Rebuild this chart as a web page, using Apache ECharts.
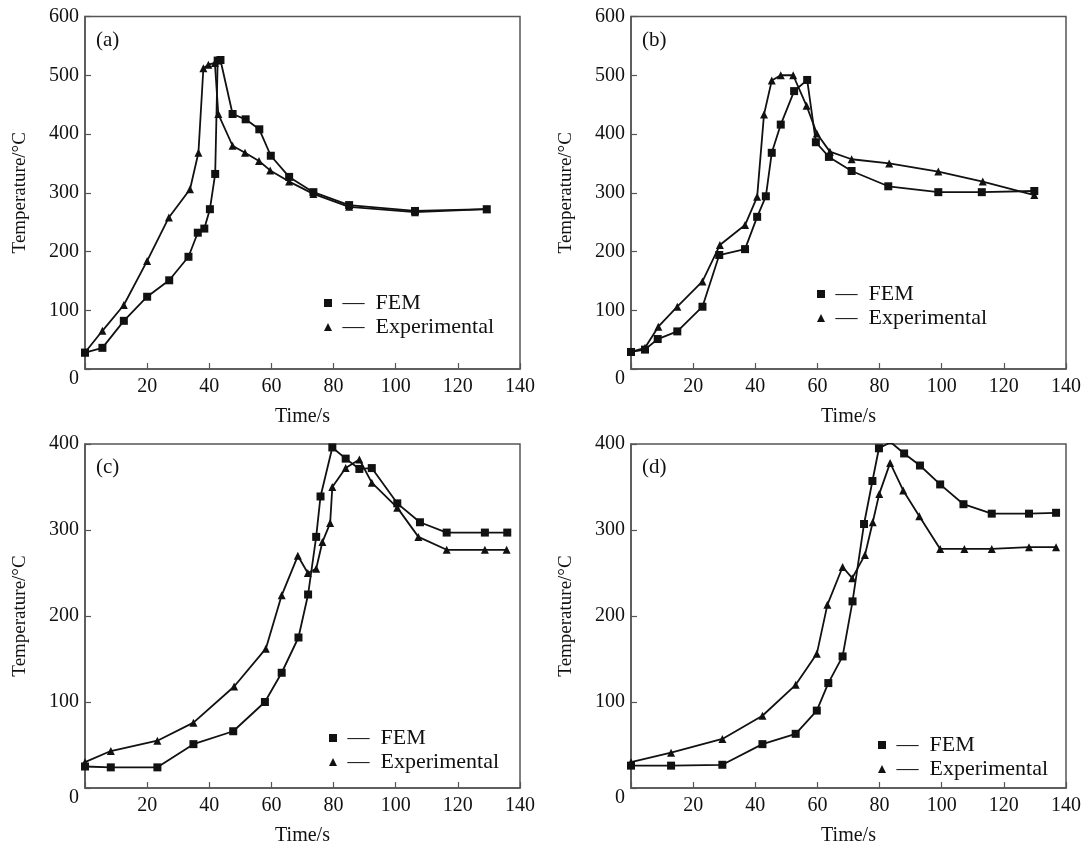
<!DOCTYPE html>
<html>
<head>
<meta charset="utf-8">
<script src="https://cdn.jsdelivr.net/npm/echarts@6/dist/echarts.min.js"></script>
<style>
  html, body { margin: 0; padding: 0; background: #fff; }
  #chart { width: 1086px; height: 847px; }
</style>
</head>
<body>
<div id="chart"></div>
<script>
// panel (a)
var femA_t = [0, 5.6, 12.5, 20, 27.1, 33.3, 36.3, 38.4, 40.2, 41.9, 42.7, 43.6, 47.5, 51.7, 56.1, 59.8, 65.7, 73.5, 85, 106.2, 129.3];
var femA_T = [28, 36, 82, 123, 151, 191, 232, 239, 272, 332, 525, 526, 434, 425, 408, 363, 327, 301, 279, 269, 272];
var expA_t = [0, 5.6, 12.5, 20, 27, 33.8, 36.5, 38.1, 39.7, 41.8, 42.9, 47.5, 51.5, 56, 59.6, 65.7, 73.5, 85, 106.2, 129.3];
var expA_T = [28, 65, 109, 184, 258, 306, 368, 512, 518, 521, 434, 380, 368, 354, 338, 319, 298, 276, 267, 272];
// panel (b)
var femB_t = [0, 4.5, 8.6, 14.9, 23, 28.4, 36.7, 40.6, 43.4, 45.3, 48.2, 52.5, 56.7, 59.5, 63.7, 71, 82.8, 98.9, 112.9, 129.8];
var femB_T = [29, 33, 51, 64, 106, 194, 204, 259, 294, 368, 416, 473, 492, 386, 361, 337, 311, 301, 301, 303];
var expB_t = [0, 4.5, 8.8, 14.9, 23, 28.6, 36.7, 40.6, 42.8, 45.3, 48.2, 52.2, 56.5, 59.8, 64, 71, 83.1, 98.9, 113.2, 129.8];
var expB_T = [29, 36, 72, 106, 149, 211, 245, 293, 433, 491, 500, 500, 448, 401, 370, 357, 350, 336, 319, 296];
// panel (c)
var femC_t = [0, 8.3, 23.3, 34.9, 47.7, 57.9, 63.3, 68.7, 71.8, 74.4, 75.8, 79.6, 83.9, 88.3, 92.3, 100.5, 107.8, 116.4, 128.7, 135.9];
var femC_T = [25, 24, 24, 51, 66, 100, 134, 175, 225, 292, 339, 396, 383, 371, 372, 331, 309, 297, 297, 297];
var expC_t = [0, 8.3, 23.3, 34.9, 48, 58.2, 63.3, 68.5, 71.7, 74.4, 76.4, 78.9, 79.6, 83.9, 88.3, 92.3, 100.5, 107.3, 116.4, 128.7, 135.7];
var expC_T = [30, 43, 55, 76, 118, 162, 224, 270, 250, 255, 286, 308, 350, 372, 382, 355, 326, 292, 277, 277, 277];
// panel (d)
var femD_t = [0, 12.9, 29.4, 42.3, 53, 59.8, 63.5, 68.1, 71.3, 75, 77.7, 79.8, 83.6, 87.9, 93, 99.5, 107, 116.1, 128.1, 136.8];
var femD_T = [26, 26, 27, 51, 63, 90, 122, 153, 217, 307, 357, 395, 402, 389, 375, 353, 330, 319, 319, 320];
var expD_t = [0, 12.9, 29.4, 42.3, 53, 59.8, 63.2, 68.1, 71.2, 75.3, 77.8, 79.9, 83.4, 87.6, 92.8, 99.5, 107.3, 116.1, 128.1, 136.8];
var expD_T = [30, 41, 57, 84, 120, 156, 213, 257, 244, 271, 309, 342, 378, 346, 316, 278, 278, 278, 280, 280];

var seriesNames = ['FEM', 'Experimental'];
var xTicks = [0, 140, 20];

var FONT = 'Liberation Serif';
var INK = '#111';
var FRAME = '#555';

var panels = [
  { label: '(a)', left: 85, top: 16.5, height: 352.5, ymax: 600, fem: [femA_t, femA_T], exp: [expA_t, expA_T], lgLeft: 324, lgTop: 292 },
  { label: '(b)', left: 631, top: 16.5, height: 352.5, ymax: 600, fem: [femB_t, femB_T], exp: [expB_t, expB_T], lgLeft: 817, lgTop: 283 },
  { label: '(c)', left: 85, top: 444, height: 352, ymax: 400, fem: [femC_t, femC_T], exp: [expC_t, expC_T], lgLeft: 329, lgTop: 727 },
  { label: '(d)', left: 631, top: 444, height: 352, ymax: 400, fem: [femD_t, femD_T], exp: [expD_t, expD_T], lgLeft: 878, lgTop: 734 }
];

function zip(t, v) {
  var out = [];
  for (var i = 0; i < t.length; i++) out.push([t[i], v[i]]);
  return out;
}

var option = {
  backgroundColor: '#fff',
  animation: false,
  title: [],
  legend: [],
  grid: [],
  xAxis: [],
  yAxis: [],
  series: []
};

panels.forEach(function (p, i) {
  option.grid.push({
    left: p.left, top: p.top, width: 435, height: p.height,
    show: true, borderColor: FRAME, borderWidth: 1.5, backgroundColor: 'transparent'
  });
  option.title.push({
    text: p.label, left: p.left + 6, top: p.top + 8,
    textStyle: { fontFamily: FONT, fontSize: 21, fontWeight: 'normal', color: INK }
  });
  option.xAxis.push({
    type: 'value', gridIndex: i, min: xTicks[0], max: xTicks[1], interval: xTicks[2],
    name: 'Time/s', nameLocation: 'middle', nameGap: 38,
    nameTextStyle: { fontFamily: FONT, fontSize: 20, color: INK },
    axisLine: { show: true, onZero: false, lineStyle: { color: FRAME, width: 1.5 } },
    axisTick: { show: true, inside: true, length: 6, lineStyle: { color: FRAME, width: 1.2 } },
    axisLabel: {
      fontFamily: FONT, fontSize: 20, color: INK, margin: 8,
      // the corner "0" is drawn by the y axis
      formatter: function (v) { return v === 0 ? '' : v; }
    },
    splitLine: { show: false }
  });
  option.yAxis.push({
    type: 'value', gridIndex: i, min: 0, max: p.ymax, interval: 100,
    name: 'Temperature/°C', nameLocation: 'middle', nameGap: 55,
    nameTextStyle: { fontFamily: FONT, fontSize: 19, color: INK },
    axisLine: { show: true, onZero: false, lineStyle: { color: FRAME, width: 1.5 } },
    axisTick: { show: true, inside: true, length: 6, lineStyle: { color: FRAME, width: 1.2 } },
    axisLabel: {
      fontFamily: FONT, fontSize: 20, color: INK, margin: 6,
      formatter: function (v) { return v === 0 ? '{z|0}' : v; },
      rich: { z: { fontFamily: FONT, fontSize: 20, color: INK, padding: [20, 0, 0, 0] } }
    },
    splitLine: { show: false }
  });
  option.series.push({
    name: seriesNames[0], type: 'line', xAxisIndex: i, yAxisIndex: i,
    data: zip(p.fem[0], p.fem[1]),
    symbol: 'rect', symbolSize: 8,
    lineStyle: { color: INK, width: 1.8 },
    itemStyle: { color: INK }
  });
  option.series.push({
    name: seriesNames[1], type: 'line', xAxisIndex: i, yAxisIndex: i,
    data: zip(p.exp[0], p.exp[1]),
    symbol: 'triangle', symbolSize: 8,
    lineStyle: { color: INK, width: 1.8 },
    itemStyle: { color: INK }
  });
  option.legend.push({
    data: [{ name: seriesNames[0], icon: 'rect' }, { name: seriesNames[1], icon: 'triangle' }],
    orient: 'vertical', left: p.lgLeft, top: p.lgTop,
    itemWidth: 8, itemHeight: 8, itemGap: 2, padding: 0,
    formatter: function (name) { return ' \u2014\u2002' + name; },
    textStyle: { fontFamily: FONT, fontSize: 22, color: INK, lineHeight: 22 },
    selectedMode: false
  });
});

var myChart = echarts.init(document.getElementById('chart'));
myChart.setOption(option);
</script>
</body>
</html>
